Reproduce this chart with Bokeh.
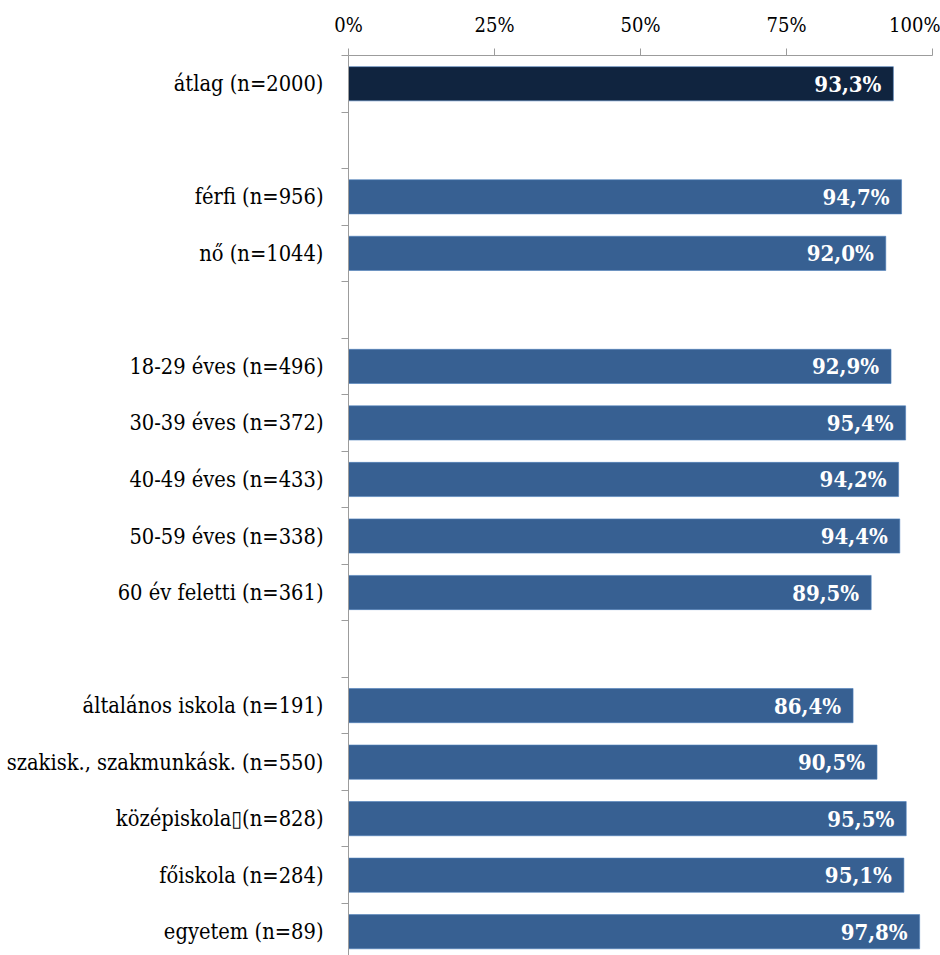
from bokeh.plotting import figure
from bokeh.models import FixedTicker, Range1d, ColumnDataSource
from bokeh.core.properties import value
from bokeh.embed import file_html
from bokeh.resources import INLINE

# ---- data (top to bottom; "" / None = empty spacer row) ----
categories = [
    "átlag (n=2000)", "",
    "férfi (n=956)", "nő (n=1044)", "",
    "18-29 éves (n=496)", "30-39 éves (n=372)", "40-49 éves (n=433)",
    "50-59 éves (n=338)", "60 év feletti (n=361)", "",
    "általános iskola (n=191)", "szakisk., szakmunkásk. (n=550)",
    "középiskola\u25af(n=828)", "főiskola (n=284)", "egyetem (n=89)",
]
values = [93.3, None, 94.7, 92.0, None, 92.9, 95.4, 94.2, 94.4, 89.5, None,
          86.4, 90.5, 95.5, 95.1, 97.8]
x_ticks = [0, 25, 50, 75, 100]
x_tick_labels = ["0%", "25%", "50%", "75%", "100%"]

DARK = "#10243f"
BLUE = "#376092"
AXIS = "#9c9c9c"
FONT = "DejaVu Serif Condensed"

n_rows = len(categories)
ys_all = [n_rows - i - 0.5 for i in range(n_rows)]

bar_y, bar_x, bar_col, bar_txt = [], [], [], []
for i, (c, v) in enumerate(zip(categories, values)):
    if v is None:
        continue
    bar_y.append(ys_all[i])
    bar_x.append(v)
    bar_col.append(DARK if i == 0 else BLUE)
    bar_txt.append(f"{v:.1f}".replace(".", ",") + "%")

src = ColumnDataSource(dict(y=bar_y, x=bar_x, color=bar_col, txt=bar_txt))

W, H = 940, 955
TOP, LEFT, RIGHT = 55, 348, 8
row_px = 56.53
frame_h = H - TOP
y_end = n_rows
y_start = n_rows - frame_h / row_px

p = figure(width=W, height=H, output_backend="svg", toolbar_location=None,
           x_range=Range1d(0, 100), y_range=Range1d(y_start, y_end),
           x_axis_location="above",
           min_border_left=LEFT, min_border_right=RIGHT,
           min_border_top=TOP, min_border_bottom=0)
p.outline_line_color = None
p.xgrid.visible = False
p.ygrid.visible = False
p.background_fill_color = "white"
p.border_fill_color = "white"

p.hbar(y="y", right="x", left=0, height=0.605, color="color", source=src,
       line_color="#4f81bd", line_alpha=0.6, line_width=1)
p.text(x="x", y="y", text="txt", source=src, text_align="right",
       text_baseline="middle", x_offset=-12, text_color="white",
       text_font=value(FONT), text_font_style="bold", text_font_size="22px")

# top axis
xa = p.xaxis[0]
xa.ticker = FixedTicker(ticks=x_ticks, minor_ticks=[])
xa.major_label_overrides = {t: l for t, l in zip(x_ticks, x_tick_labels)}
xa.major_tick_out = 7
xa.major_tick_in = 0
xa.minor_tick_out = 0
xa.minor_tick_in = 0
xa.axis_line_color = AXIS
xa.major_tick_line_color = AXIS
xa.major_label_text_font = FONT
xa.major_label_text_font_size = "20px"
xa.major_label_text_color = "black"
xa.major_label_standoff = 12

# left axis: labels at row centres, tick marks at row boundaries
label_pos = [ys_all[i] for i, c in enumerate(categories) if c]
boundaries = list(range(0, n_rows + 1))
ya = p.yaxis[0]
ya.ticker = FixedTicker(ticks=label_pos, minor_ticks=boundaries)
ya.major_label_overrides = {ys_all[i]: c for i, c in enumerate(categories) if c}
ya.major_tick_out = 0
ya.major_tick_in = 0
ya.minor_tick_out = 7
ya.minor_tick_in = 0
ya.axis_line_color = AXIS
ya.minor_tick_line_color = AXIS
ya.major_label_text_font = FONT
ya.major_label_text_font_size = "21.7px"
ya.major_label_text_color = "black"
ya.major_label_standoff = 18

open("out.html", "w").write(file_html(p, INLINE))
